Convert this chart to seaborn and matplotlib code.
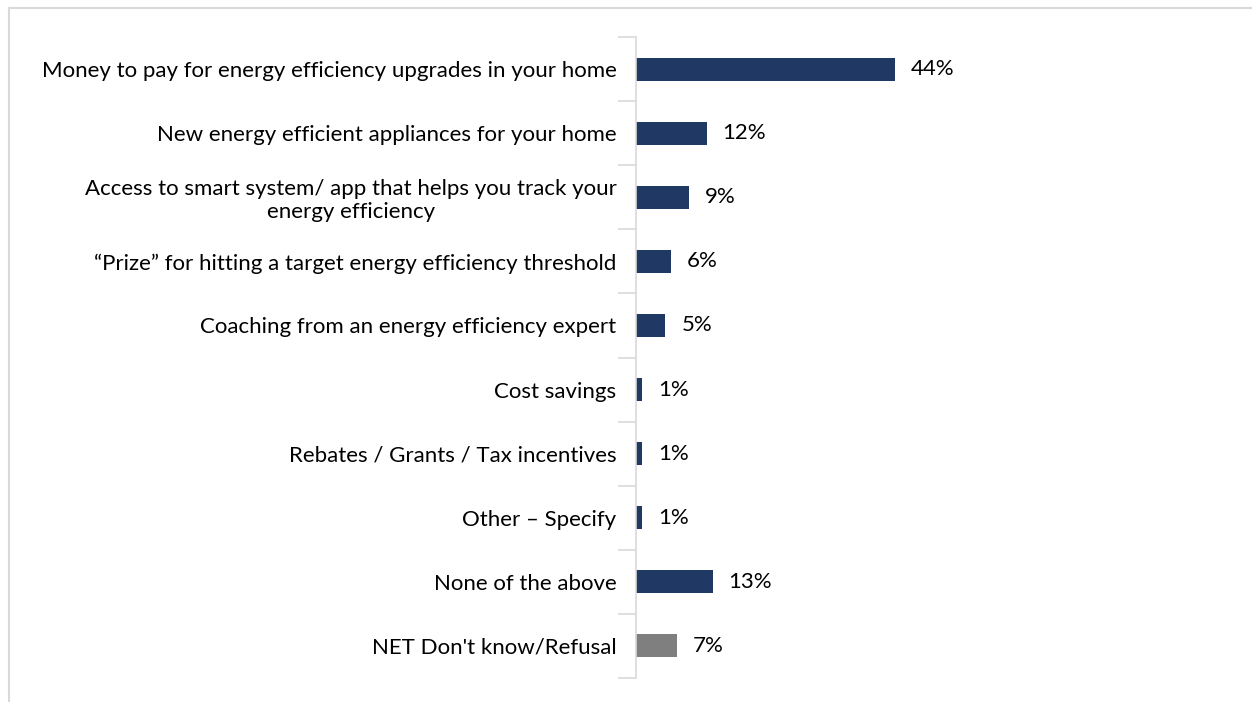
import seaborn as sns
import matplotlib.pyplot as plt
import pandas as pd

categories = [
    "Money to pay for energy efficiency upgrades in your home",
    "New energy efficient appliances for your home",
    "Access to smart system/ app that helps you track your\nenergy efficiency",
    "\u201cPrize\u201d for hitting a target energy efficiency threshold",
    "Coaching from an energy efficiency expert",
    "Cost savings",
    "Rebates / Grants / Tax incentives",
    "Other \u2013 Specify",
    "None of the above",
    "NET Don't know/Refusal",
]
values = [44, 12, 9, 6, 5, 1, 1, 1, 13, 7]
bar_colors = ["#203864"] * 9 + ["#7f7f7f"]

df = pd.DataFrame({"cat": categories, "val": values})

sns.set_style("white")
plt.rcParams["font.family"] = ["Lato", "DejaVu Sans"]

fig = plt.figure(figsize=(12.52, 7.02), dpi=100)
ax = fig.add_axes([636 / 1252, 1 - 678 / 702, 589 / 1252, 641 / 702])

sns.barplot(data=df, y="cat", x="val", hue="cat", palette=bar_colors,
            legend=False, width=0.36, ax=ax, saturation=1, linewidth=0)

ax.set_xlim(0, 100)
ax.set_ylim(9.5, -0.5)
ax.set_xlabel("")
ax.set_ylabel("")
ax.set_xticks([])

for s in ["top", "right", "bottom"]:
    ax.spines[s].set_visible(False)
ax.spines["left"].set_color("#d9d9d9")
ax.spines["left"].set_linewidth(1.2)

ax.set_yticks(range(len(categories)))
ax.set_yticklabels(categories, fontsize=16, color="#000000",
                   multialignment="center", linespacing=1.15)
ax.set_yticks([i - 0.5 for i in range(len(categories) + 1)], minor=True)
ax.tick_params(axis="y", which="major", length=0, pad=14)
ax.tick_params(axis="y", which="minor", length=13, width=1.2, color="#d9d9d9", left=True)

for i, v in enumerate(values):
    ax.text(v + 2.7, i, f"{v}%", va="center", ha="left", fontsize=16, color="#000000")

# outer frame
fig.add_artist(plt.Line2D([9 / 1252, 9 / 1252], [0, 1 - 8 / 702], color="#d9d9d9", lw=1.5))
fig.add_artist(plt.Line2D([9 / 1252, 1], [1 - 8 / 702, 1 - 8 / 702], color="#d9d9d9", lw=1.5))

fig.savefig("out.png", dpi=100)
